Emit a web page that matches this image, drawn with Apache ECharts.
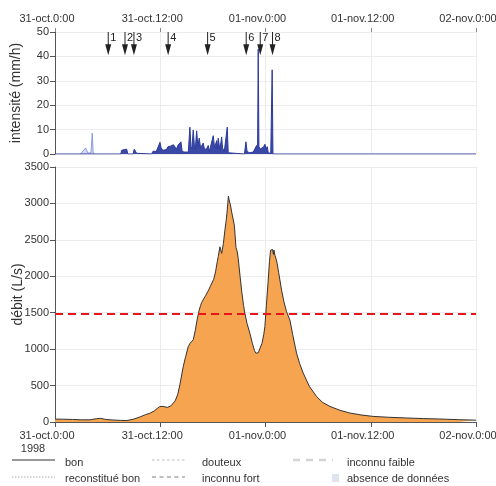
<!DOCTYPE html>
<html><head><meta charset="utf-8">
<script src="https://cdn.jsdelivr.net/npm/echarts@6/dist/echarts.min.js"></script>
<style>html,body{margin:0;padding:0;background:#fff}#c{width:496px;height:486px}</style>
</head><body><div id="c"></div>
<script>
// Time axis: hours since 31-oct 0:00 (1998)
const timeTicks = [0, 12, 24, 36, 48];
const timeLabels = ['31-oct.0:00', '31-oct.12:00', '01-nov.0:00', '01-nov.12:00', '02-nov.0:00'];

// Rain intensity (mm/h), "bon" (dark blue)
const rainGood = [[0,0],[6.0,0],[6.07,0.8],[6.15,0],[7.5,0],[7.6,1.5],[7.75,1.2],[7.9,1.8],[8.05,1.4],[8.17,2.0],[8.3,0],[8.9,0],[9.04,2.0],[9.15,1.2],[9.3,0.3],[9.5,0],[11.0,0],[11.2,1.2],[11.5,1.0],[11.66,2.0],[11.8,1.5],[11.97,4.8],[12.1,2.5],[12.3,1.5],[12.5,2.2],[12.7,1.8],[12.88,3.0],[13.0,2.2],[13.15,3.2],[13.3,2.5],[13.5,3.8],[13.68,3.6],[13.85,2.0],[14.0,3.5],[14.2,3.0],[14.36,5.0],[14.5,1.0],[14.62,0.4],[14.8,0.8],[15.0,1.5],[15.2,0.8],[15.38,11],[15.5,3],[15.6,2],[15.76,9.8],[15.9,3],[16.0,2],[16.15,9.5],[16.3,3],[16.44,6.5],[16.6,2.5],[16.75,3],[16.9,4.5],[17.05,1.8],[17.29,2.2],[17.47,3.5],[17.6,1.0],[17.8,1.5],[18.04,7.5],[18.2,2.5],[18.43,5.5],[18.5,2],[18.61,6.5],[18.8,1.5],[19.0,7.0],[19.1,2.5],[19.18,3.0],[19.3,1.0],[19.5,0.8],[19.64,11],[19.75,0.5],[19.9,0],[21.6,0],[21.77,5.0],[21.9,1.0],[22.2,0.5],[22.6,0.8],[22.99,3.5],[23.1,2.5],[23.17,43],[23.25,3],[23.4,2],[23.6,1.5],[23.8,3],[23.93,4],[24.1,2],[24.2,3],[24.31,0.5],[24.6,0.3],[24.76,34.5],[24.85,0],[48,0]];
// Rain intensity (mm/h), "reconstitué bon" (light blue)
const rainRecon = [[2.9,0],[3.5,2.5],[3.76,0.3],[4.1,0.6],[4.25,8.6],[4.35,0.3],[4.5,0]];

// Events (hours) and their labels
const eventTimes = [6.07, 7.98, 9.0, 12.9, 17.4, 21.8, 23.4, 24.8];
const eventLabels = ['1','2','3','4','5','6','7','8'];

// Discharge (L/s)
const flow = [[0,40],[1,38],[2,35],[3,30],[4,30],[4.7,45],[5.2,50],[5.8,35],[6.5,28],[7.5,22],[8.2,20],[9,40],[9.7,70],[10.3,100],[10.8,120],[11.3,150],[11.9,210],[12.3,215],[12.8,200],[13.2,220],[13.7,290],[14.0,380],[14.25,520],[14.62,760],[14.9,900],[15.19,1035],[15.4,1080],[15.6,1100],[15.76,1127],[16.0,1260],[16.2,1400],[16.44,1537],[16.6,1600],[16.72,1640],[17.0,1700],[17.2,1740],[17.47,1800],[17.7,1860],[17.86,1880],[18.1,1960],[18.3,2060],[18.5,2200],[18.61,2270],[18.8,2404],[18.9,2380],[19.0,2314],[19.2,2450],[19.37,2633],[19.5,2750],[19.6,2860],[19.7,3000],[19.77,3100],[19.85,3050],[19.94,3030],[20.05,2950],[20.14,2883],[20.28,2900],[20.45,2700],[20.63,2400],[20.78,2335],[20.89,2245],[21.1,2000],[21.3,1780],[21.5,1600],[21.65,1492],[21.9,1350],[22.22,1218],[22.5,1080],[22.75,980],[22.9,945],[23.17,950],[23.36,953],[23.6,1080],[23.8,1200],[23.93,1309],[24.1,1600],[24.31,1948],[24.45,2200],[24.58,2359],[24.7,2380],[24.81,2368],[24.9,2300],[24.96,2360],[25.07,2290],[25.2,2240],[25.33,2177],[25.5,2050],[25.83,1811],[26.1,1650],[26.4,1514],[26.78,1400],[27.1,1200],[27.54,945],[27.9,800],[28.3,671],[29.0,490],[29.82,350],[30.5,270],[31.34,214],[32.5,160],[33.62,123],[35,95],[36.27,77],[38,65],[40.08,55],[42,47],[43.87,41],[46,32],[48,25]];
const threshold = 1480;

const FONT = 'Liberation Sans';
const chart = echarts.init(document.getElementById('c'));
const fmt = v => { const i = timeTicks.indexOf(v); return i >= 0 ? timeLabels[i] : ''; };
const plain = v => String(v);
const gridLine = { show: true, lineStyle: { color: '#ececec', width: 1 } };

chart.setOption({
  animation: false,
  backgroundColor: '#fff',
  textStyle: { fontFamily: FONT },
  grid: [
    { left: 55, right: 20, top: 32, height: 122, containLabel: false, outerBoundsMode: 'none' },
    { left: 55, right: 20, top: 167, height: 255, containLabel: false, outerBoundsMode: 'none' }
  ],
  xAxis: [
    { gridIndex: 0, type: 'value', position: 'top', min: 0, max: 48, interval: 12,
      axisLine: { show: false, onZero: false }, axisTick: { show: true, length: 4, lineStyle: { color: '#888' } },
      axisLabel: { formatter: fmt, fontSize: 11, color: '#333', margin: 8, fontFamily: FONT, hideOverlap: false, padding: [0, 16, 0, 0] },
      splitLine: gridLine },
    { gridIndex: 1, type: 'value', position: 'bottom', min: 0, max: 48, interval: 12,
      axisLine: { show: true, onZero: false, lineStyle: { color: '#555' } }, axisTick: { show: true, length: 5, lineStyle: { color: '#555' } },
      axisLabel: { formatter: fmt, fontSize: 11, color: '#333', margin: 8, fontFamily: FONT, hideOverlap: false, padding: [0, 16, 0, 0] },
      splitLine: gridLine }
  ],
  yAxis: [
    { gridIndex: 0, type: 'value', min: 0, max: 50, interval: 10,
      name: 'intensité (mm/h)', nameLocation: 'middle', nameGap: 32, nameRotate: 90, nameMoveOverlap: false,
      nameTextStyle: { fontSize: 14, color: '#333', fontFamily: FONT },
      axisLine: { show: true, lineStyle: { color: '#555' } }, axisTick: { show: true, length: 5, lineStyle: { color: '#555' } },
      axisLabel: { formatter: plain, fontSize: 11, color: '#333', margin: 6, fontFamily: FONT },
      splitLine: gridLine },
    { gridIndex: 1, type: 'value', min: 0, max: 3500, interval: 500,
      name: 'débit (L/s)', nameLocation: 'middle', nameGap: 30, nameRotate: 90, nameMoveOverlap: false,
      nameTextStyle: { fontSize: 14, color: '#333', fontFamily: FONT },
      axisLine: { show: true, lineStyle: { color: '#555' } }, axisTick: { show: true, length: 5, lineStyle: { color: '#555' } },
      axisLabel: { formatter: plain, fontSize: 11, color: '#333', margin: 6, fontFamily: FONT },
      splitLine: gridLine }
  ],
  series: [
    { type: 'line', xAxisIndex: 0, yAxisIndex: 0, data: rainRecon, symbol: 'none',
      lineStyle: { color: '#8d9be0', width: 1 }, areaStyle: { color: '#a9b4ea', opacity: 0.5 } },
    { type: 'line', xAxisIndex: 0, yAxisIndex: 0, data: rainGood, symbol: 'none',
      lineStyle: { color: '#2c3a9c', width: 1 }, areaStyle: { color: '#3a48a6', opacity: 1 } },
    { type: 'custom', xAxisIndex: 0, yAxisIndex: 0, clip: false,
      data: eventTimes.map((t, i) => [t, eventLabels[i]]),
      renderItem: (params, api) => {
        const top = api.coord([api.value(0), 50]);
        const bot = api.coord([api.value(0), 40.5]);
        const headLen = 11, hw = 3;
        return { type: 'group', children: [
          { type: 'line', shape: { x1: top[0], y1: top[1], x2: bot[0], y2: bot[1] - headLen + 1 },
            style: { stroke: '#222', lineWidth: 1 } },
          { type: 'polygon', shape: { points: [[bot[0]-hw, bot[1]-headLen], [bot[0]+hw, bot[1]-headLen], [bot[0], bot[1]]] },
            style: { fill: '#222' } },
          { type: 'text', x: top[0] + 2, y: top[1] + 6,
            style: { text: eventLabels[params.dataIndex], fontSize: 11, fill: '#222', fontFamily: FONT, verticalAlign: 'middle' } }
        ]};
      } },
    { type: 'line', xAxisIndex: 1, yAxisIndex: 1, data: flow, symbol: 'none',
      lineStyle: { color: '#333', width: 1 }, areaStyle: { color: '#f6a450', opacity: 1 },
      markLine: { silent: true, symbol: 'none', label: { show: false },
        lineStyle: { color: '#e8161b', type: [8, 5], width: 2 },
        data: [{ yAxis: threshold }] } }
  ],
  graphic: [
    { type: 'text', x: 33, y: 449, style: { text: '1998', fontSize: 11, fill: '#333', fontFamily: FONT, align: 'center', verticalAlign: 'middle' } },
    { type: 'line', shape: { x1: 12, y1: 460, x2: 55, y2: 460 }, style: { stroke: '#333', lineWidth: 1 } },
    { type: 'text', x: 65, y: 463, style: { text: 'bon', fontSize: 11, fill: '#333', fontFamily: FONT, verticalAlign: 'middle' } },
    { type: 'line', shape: { x1: 12, y1: 477, x2: 55, y2: 477 }, style: { stroke: '#aaa', lineWidth: 1, lineDash: [1.5, 1.5] } },
    { type: 'text', x: 65, y: 479, style: { text: 'reconstitué bon', fontSize: 11, fill: '#333', fontFamily: FONT, verticalAlign: 'middle' } },
    { type: 'line', shape: { x1: 152, y1: 460, x2: 185, y2: 460 }, style: { stroke: '#bbb', lineWidth: 1, lineDash: [2.5, 2.5] } },
    { type: 'text', x: 202, y: 463, style: { text: 'douteux', fontSize: 11, fill: '#333', fontFamily: FONT, verticalAlign: 'middle' } },
    { type: 'line', shape: { x1: 152, y1: 477, x2: 185, y2: 477 }, style: { stroke: '#aaa', lineWidth: 1.5, lineDash: [4, 3.5] } },
    { type: 'text', x: 202, y: 479, style: { text: 'inconnu fort', fontSize: 11, fill: '#333', fontFamily: FONT, verticalAlign: 'middle' } },
    { type: 'line', shape: { x1: 293, y1: 460, x2: 333, y2: 460 }, style: { stroke: '#d4d4d4', lineWidth: 2.5, lineDash: [7, 6] } },
    { type: 'text', x: 347, y: 463, style: { text: 'inconnu faible', fontSize: 11, fill: '#333', fontFamily: FONT, verticalAlign: 'middle' } },
    { type: 'rect', shape: { x: 332, y: 474, width: 7, height: 8 }, style: { fill: '#dfe4ee' } },
    { type: 'text', x: 347, y: 479, style: { text: 'absence de données', fontSize: 11, fill: '#333', fontFamily: FONT, verticalAlign: 'middle' } }
  ]
});
</script></body></html>
